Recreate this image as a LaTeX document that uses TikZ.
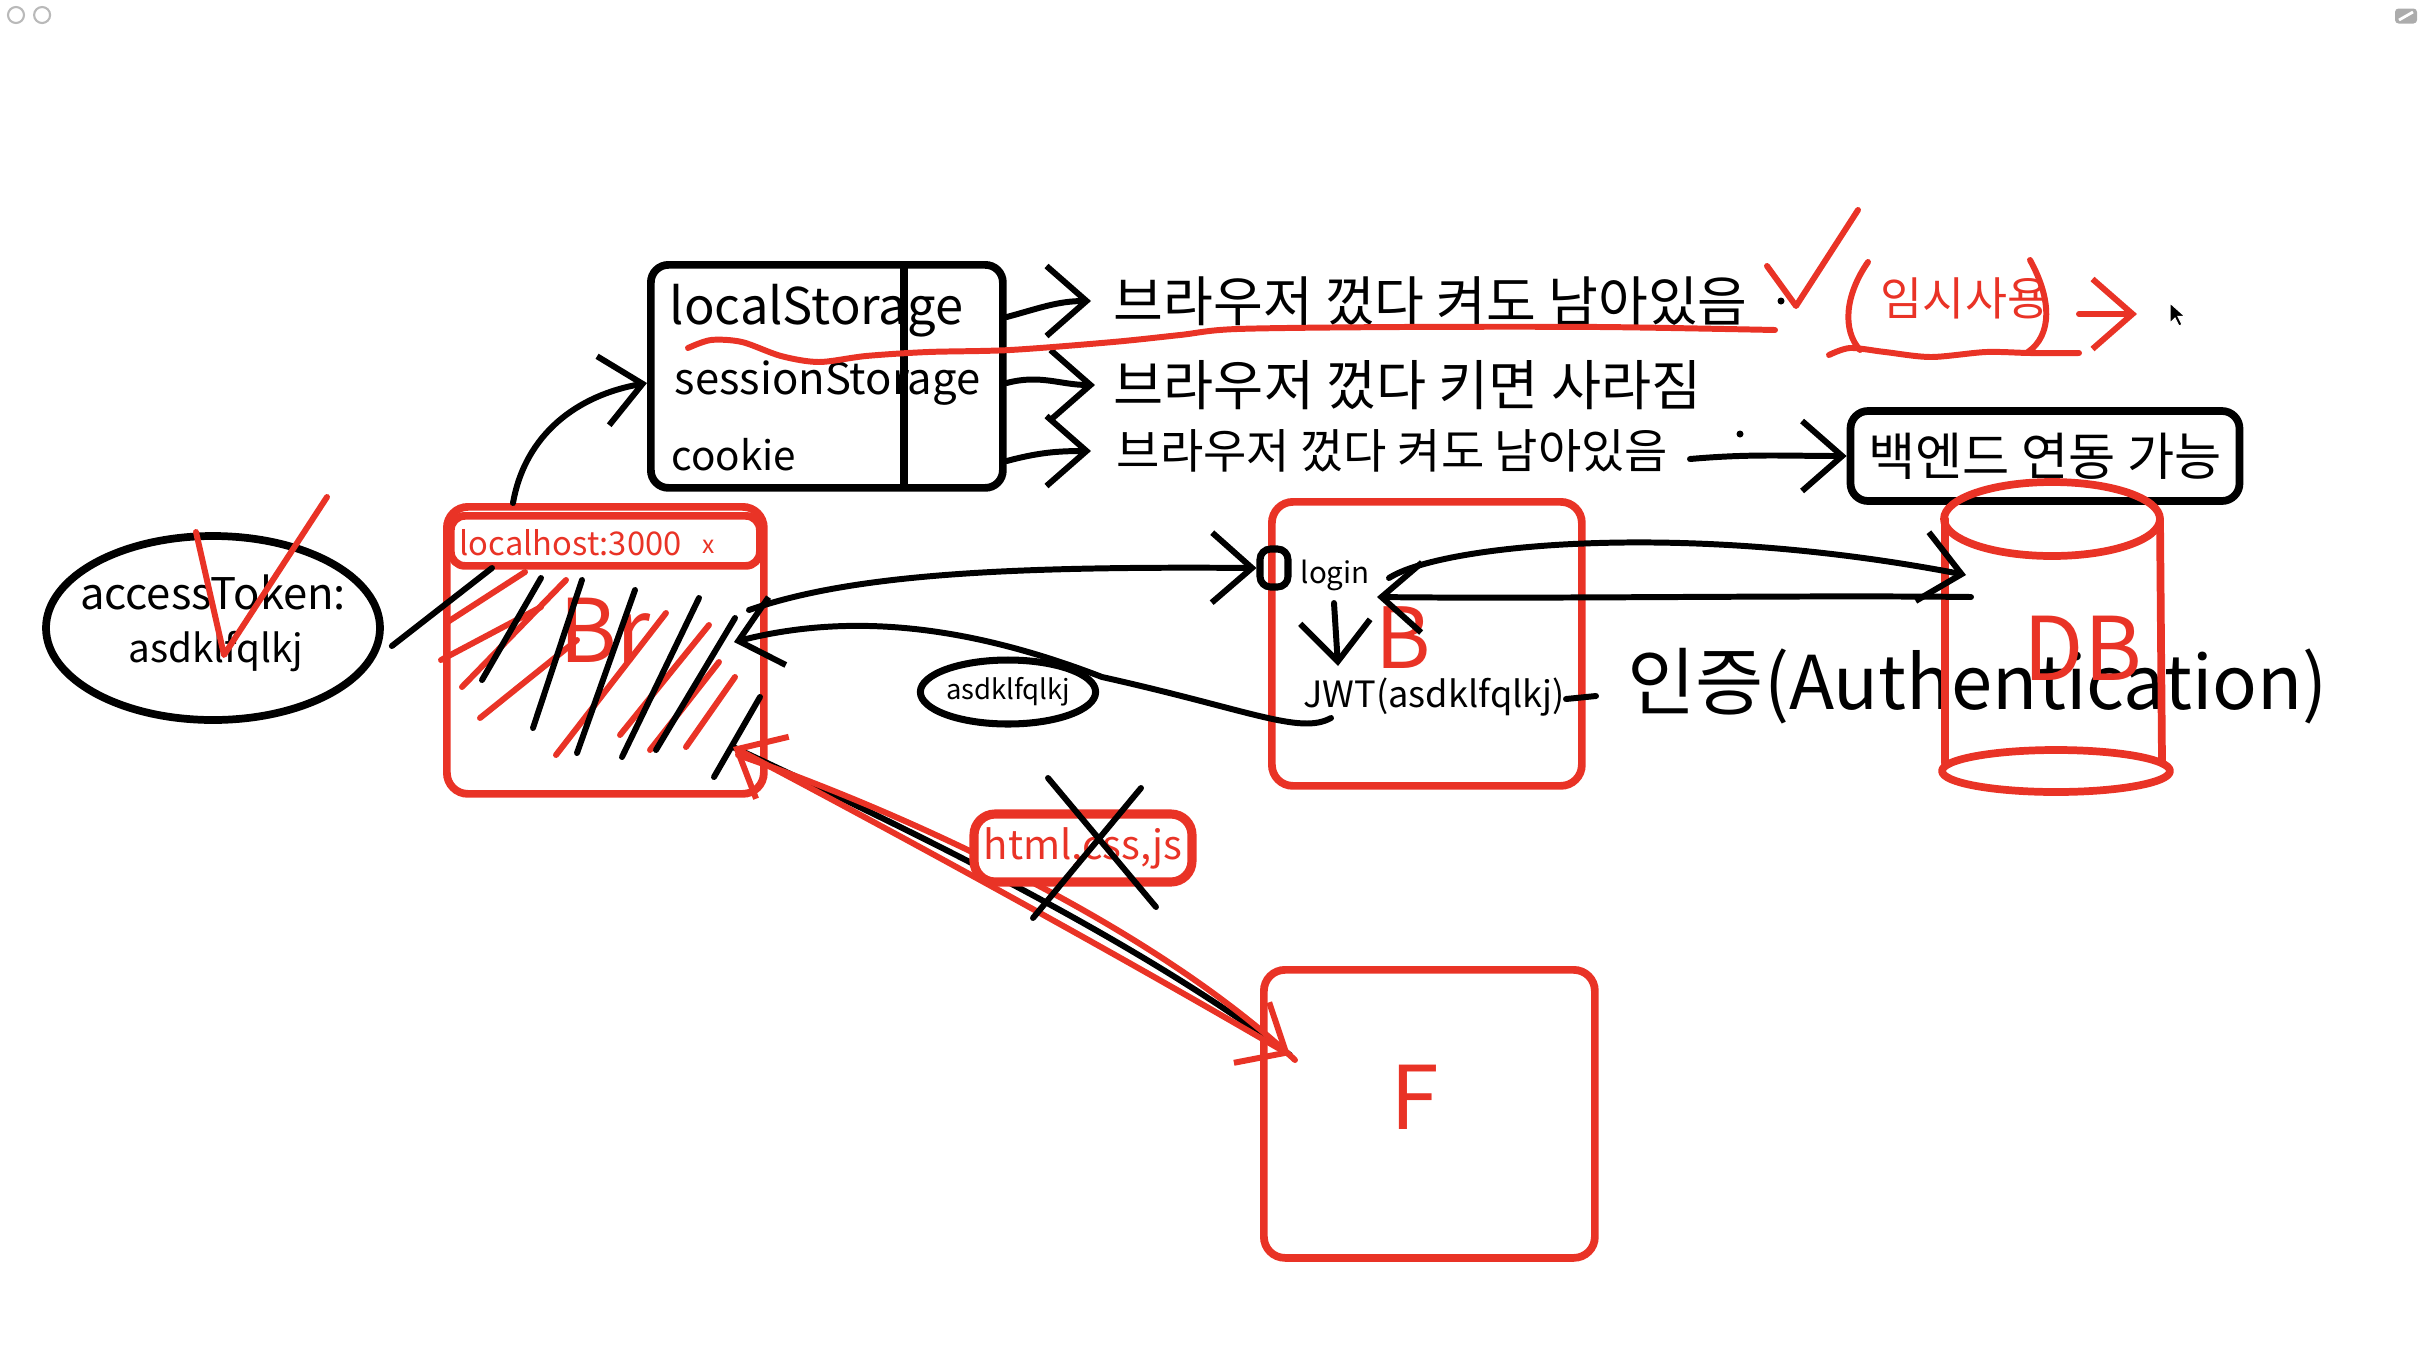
\documentclass[tikz,border=0pt]{standalone}
\usepackage{fontspec}
\setmainfont{Noto Sans CJK KR}
\usetikzlibrary{arrows.meta,positioning,shapes.geometric}
\definecolor{penred}{RGB}{233,51,38}
\tikzset{
  txt/.style={inner sep=0pt,font=\fontsize{#1}{#1}\selectfont},
  pen/.style={line width=1.7pt,line cap=round,line join=round},
  redpen/.style={pen,draw=penred},
  chev/.style={-{Straight Barb[length=4mm,width=7mm]}},
  chevs/.style={{Straight Barb[length=4mm,width=7mm]}-{Straight Barb[length=4mm,width=7mm]}},
  blackbox/.style={draw,line width=2.2pt,rounded corners=5pt},
  redbox/.style={draw=penred,line width=2.2pt,rounded corners=6pt},
}
\begin{document}
\begin{tikzpicture}
\useasboundingbox (0,0) rectangle (24.24,-13.62);

\node[circle,draw=gray!55,line width=0.6pt,minimum size=0.16cm,inner sep=0pt] (btn-close) at (0.16,-0.15) {};
\node[circle,draw=gray!55,line width=0.6pt,minimum size=0.16cm,inner sep=0pt,right=0.08cm of btn-close] (btn-more) {};
\node[fill=gray!65,rounded corners=1pt,minimum width=0.22cm,minimum height=0.15cm,inner sep=0pt] (btn-pen) at (24.06,-0.16) {};
\draw[white,line width=0.8pt] ([shift={(-0.07,-0.04)}]btn-pen.center) -- ([shift={(0.07,0.04)}]btn-pen.center);

% storage
\node[blackbox,minimum width=3.52cm,minimum height=2.23cm,anchor=north west] (storage) at (6.47,-2.61) {};
\draw[line width=2.2pt] (9.04,-2.61) -- (9.04,-4.84);
\node[txt=14.4pt,anchor=west] (local) at (6.69,-3.11) {localStorage};
\node[txt=12.4pt,anchor=west] (session) at (6.74,-3.83) {sessionStorage};
\node[txt=11.5pt,anchor=west] (cookie) at (6.71,-4.55) {cookie};

\node[txt=15.4pt,anchor=west] (keep-a) at (11.13,-3.01) {브라우저 껐다 켜도 남아있음};
\node[txt=15.5pt,anchor=west] (gone) at (11.13,-3.85) {브라우저 껐다 키면 사라짐};
\node[txt=13.4pt,anchor=west] (keep-b) at (11.16,-4.51) {브라우저 껐다 켜도 남아있음};

\draw[pen,chev] ([yshift=-0.06cm]local.east -| storage.east) to[out=15,in=180] ([xshift=-0.22cm]keep-a.west);
\draw[pen,chev] (session.east -| storage.east) to[out=15,in=180] ([xshift=-0.18cm]gone.west);
\draw[pen,chev] ([yshift=-0.06cm]cookie.east -| storage.east) to[out=15,in=180] ([xshift=-0.25cm]keep-b.west);

\draw[redpen] plot[smooth] coordinates {(6.88,-3.48) (7.11,-3.40) (7.42,-3.42) (7.81,-3.56) (8.19,-3.62) (8.66,-3.56) (9.28,-3.52) (10.10,-3.50) (11.13,-3.42) (11.80,-3.35) (12.37,-3.29) (14.00,-3.27) (16.00,-3.27) (17.75,-3.30)};
\fill (17.81,-3.01) circle (0.035);
\draw[redpen] (17.67,-2.66) -- (17.96,-3.06) -- (18.58,-2.10);

% temporary use
\node[txt=13pt,text=penred] (temp) at (19.65,-2.98) {임시사용};
\draw[redpen] (18.68,-2.62) .. controls (18.45,-2.95) and (18.42,-3.30) .. (18.60,-3.50);
\draw[redpen] plot[smooth] coordinates {(18.29,-3.55) (18.50,-3.48) (18.85,-3.52) (19.31,-3.57) (19.86,-3.52) (20.30,-3.53) (20.79,-3.53)};
\draw[redpen] (20.30,-2.60) .. controls (20.52,-3.00) and (20.52,-3.35) .. (20.28,-3.52);
\coordinate (temp-end) at (21.37,-3.14);
\draw[redpen,chev] (20.79,-3.14) -- (temp-end);
\filldraw[fill=black,draw=white,line width=0.3pt] (21.70,-3.03) -- ++(0,-0.2) -- ++(0.05,0.05) -- ++(0.04,-0.08) -- ++(0.03,0.015) -- ++(-0.04,0.08) -- ++(0.07,0) -- cycle;

% backend link
\node[blackbox,txt=14.6pt,minimum width=3.89cm,minimum height=0.9cm] (backend) at (20.45,-4.56) {백엔드 연동 가능};
\coordinate (keep-b-out) at (16.90,-4.59);
\fill (17.40,-4.34) circle (0.035);
\draw[pen,chev] (keep-b-out) to[out=5,in=180] (backend.west);

% browser
\node[redbox,minimum width=3.17cm,minimum height=2.87cm,anchor=north west] (browser) at (4.43,-5.03) {};
\node[redbox,rounded corners=4pt,minimum width=3.09cm,minimum height=0.50cm,anchor=north west] (tab) at (4.47,-5.12) {};
\node[txt=9.3pt,text=penred,anchor=west] (host) at (4.59,-5.43) {localhost:3000};
\node[txt=7pt,text=penred] (tab-x) at (7.09,-5.47) {x};
\node[txt=25pt,text=penred] (br) at (6.05,-6.30) {Br};
\foreach \xa/\ya/\xb/\yb in {4.46/-6.23/5.25/-5.72, 4.41/-6.60/5.41/-6.07, 4.62/-6.87/5.66/-5.80, 4.80/-7.18/5.77/-6.40, 5.56/-7.55/6.66/-6.13, 6.20/-7.35/7.09/-6.25, 6.50/-7.50/7.19/-6.62, 6.86/-7.47/7.35/-6.77}
  \draw[redpen] (\xa,\ya) -- (\xb,\yb);
\foreach \xa/\ya/\xb/\yb in {4.82/-6.80/5.41/-5.78, 5.33/-7.28/5.82/-5.80, 5.77/-7.53/6.35/-5.90, 6.22/-7.57/6.99/-5.98, 6.56/-7.50/7.35/-6.18, 7.14/-7.77/7.60/-6.97}
  \draw[pen] (\xa,\ya) -- (\xb,\yb);

% token
\node[ellipse,draw,line width=2.2pt,minimum width=3.34cm,minimum height=1.84cm] (token) at (2.13,-6.28) {};
\node[txt=12.4pt] (token-key) at (2.13,-5.92) {accessToken:};
\node[txt=11pt] (token-val) at (2.16,-6.52) {asdklfqlkj};
\draw[redpen] (1.96,-5.32) -- (2.24,-6.55) -- (3.27,-4.97);
\coordinate (hatch-top) at (4.92,-5.68);
\draw[pen] ([shift={(0.08,-0.18)}]token.east) -- (hatch-top);
\draw[pen,chev] ([xshift=0.70cm]browser.north west) to[out=80,in=190] (storage.west |- session.west);

% server
\node[redbox,minimum width=3.10cm,minimum height=2.84cm,anchor=north west] (server) at (12.68,-4.98) {};
\node[draw,line width=2pt,rounded corners=3pt,minimum width=0.28cm,minimum height=0.38cm,inner sep=0pt] (login-port) at (12.74,-5.68) {};
\node[txt=8.4pt,anchor=west] (login) at (13.00,-5.75) {login};
\node[txt=24pt,text=penred] (b-label) at (14.03,-6.38) {B};
\node[txt=10.3pt] (jwt) at (14.34,-6.97) {JWT(asdklfqlkj)};
\coordinate (login-down) at (13.34,-6.03);
\draw[pen,chev] (login-down) -- (13.38,-6.66);
\coordinate (br-out) at (7.49,-6.10);
\coordinate (br-in) at (7.34,-6.42);
\draw[pen,chev] (br-out) .. controls (8.5,-5.75) and (10.0,-5.66) .. (login-port.west);
\draw[pen,chev] (13.31,-7.18) .. controls (13.0,-7.35) and (12.5,-7.10) .. (11.02,-6.77) .. controls (9.8,-6.30) and (8.6,-6.10) .. (br-in);
\node[ellipse,draw,line width=2pt,txt=7.8pt,minimum width=1.74cm,minimum height=0.64cm] (token-copy) at (10.08,-6.92) {asdklfqlkj};
\draw[pen] (15.66,-6.99) -- (15.96,-6.96);
\node[txt=21.1pt,anchor=west] (authn) at (16.27,-6.86) {인증(Authentication)};

% db
\draw[redpen,line width=2.2pt] (20.52,-5.19) ellipse (1.08 and 0.37);
\draw[redpen,line width=2.2pt] (19.45,-5.19) -- (19.45,-7.63);
\draw[redpen,line width=2.2pt] (21.60,-5.19) -- (21.62,-7.62);
\draw[redpen,line width=2.2pt] (20.56,-7.71) ellipse (1.14 and 0.21);
\node[txt=25pt,text=penred] (db) at (20.83,-6.48) {DB};
\coordinate (db-in) at (19.66,-5.75);
\coordinate (db-out) at (19.71,-5.97);
\draw[pen,chev] (13.89,-5.78) .. controls (14.4,-5.45) and (16.8,-5.20) .. (db-in);
\draw[pen,chev] (db-out) .. controls (18.0,-5.95) and (15.5,-5.99) .. (13.77,-5.97);

% front
\node[redbox,minimum width=3.31cm,minimum height=2.88cm,anchor=north west] (front) at (12.60,-9.66) {};
\node[txt=25pt,text=penred] (f-label) at (14.15,-10.97) {F};
\coordinate (br-low) at (7.33,-7.47);
\coordinate (front-in) at (12.90,-10.55);
\draw[pen] (br-low) .. controls (9.0,-8.25) and (11.3,-9.35) .. (front-in);
\draw[redpen,chevs] (br-low) .. controls (9.0,-8.35) and (11.1,-9.50) .. (front-in);
\draw[redpen] ([shift={(0.05,-0.08)}]br-low) .. controls (9.1,-8.15) and (11.5,-9.25) .. ([shift={(0.05,-0.05)}]front-in);
\node[redbox,line width=2.6pt,txt=11.4pt,text=penred,fill=white,minimum width=2.18cm,minimum height=0.68cm] (assets) at (10.83,-8.48) {html,css,js};
\draw[pen] (10.48,-7.78) -- (11.56,-9.07);
\draw[pen] (11.41,-7.88) -- (10.33,-9.18);
\end{tikzpicture}
\end{document}
